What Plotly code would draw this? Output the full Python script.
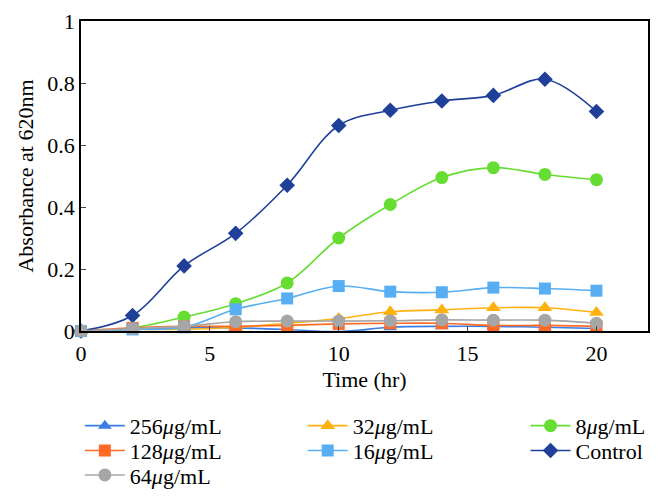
import plotly.graph_objects as go

time_hr = [0, 2, 4, 6, 8, 10, 12, 14, 16, 18, 20]

series_names = ["256<i>\u03bc</i>g/mL", "32<i>\u03bc</i>g/mL", "8<i>\u03bc</i>g/mL",
                "128<i>\u03bc</i>g/mL", "16<i>\u03bc</i>g/mL", "Control", "64<i>\u03bc</i>g/mL"]

v256 = [0, 0.005, 0.010, 0.010, 0.005, -0.002, 0.012, 0.015, 0.015, 0.012, 0.008]
v32 = [0, 0.005, 0.005, 0.012, 0.025, 0.040, 0.062, 0.068, 0.075, 0.075, 0.060]
v8 = [0, 0.010, 0.045, 0.088, 0.155, 0.300, 0.408, 0.495, 0.527, 0.505, 0.488]
v128 = [0, 0.010, 0.015, 0.015, 0.018, 0.023, 0.025, 0.025, 0.018, 0.018, 0.015]
v16 = [0, 0.005, 0.012, 0.070, 0.105, 0.145, 0.127, 0.125, 0.140, 0.137, 0.130]
vcontrol = [0, 0.050, 0.210, 0.315, 0.470, 0.663, 0.712, 0.742, 0.760, 0.812, 0.708]
v64 = [0, 0.008, 0.015, 0.030, 0.032, 0.032, 0.033, 0.036, 0.035, 0.035, 0.025]

values = [v256, v32, v8, v128, v16, vcontrol, v64]
colors = ["#3b7de3", "#ffb20f", "#66dd33", "#ff6b24", "#58aef2", "#1f3f99", "#a6a6a6"]
symbols = ["triangle-up", "triangle-up", "circle", "square", "square", "diamond", "circle"]
sizes = [12, 13, 13, 12, 12, 12, 13]

# legend grid placement (3 columns, row-major)
col_x = [-0.002, 0.391, 0.784]
row_y = [-0.306, -0.386, -0.465]

font_family = "Liberation Serif"
FS = 22

fig = go.Figure()
legend_layouts = {}
for i in range(7):
    key = "legend" if i == 0 else f"legend{i + 1}"
    fig.add_trace(go.Scatter(
        x=time_hr, y=values[i], name=series_names[i],
        mode="lines+markers",
        line=dict(color=colors[i], width=1.6, shape="spline", smoothing=1.0),
        marker=dict(color=colors[i], symbol=symbols[i], size=sizes[i]),
        cliponaxis=False,
        legend=key,
    ))
    legend_layouts[key] = dict(
        orientation="h", x=col_x[i % 3], xanchor="left",
        y=row_y[i // 3], yanchor="middle",
        font=dict(size=FS, family=font_family, color="black"), itemwidth=40,
        bgcolor="rgba(0,0,0,0)",
    )

fig.update_layout(
    width=663, height=501,
    paper_bgcolor="white", plot_bgcolor="white",
    margin=dict(l=81, r=15, t=21, b=170, autoexpand=False),
    font=dict(family=font_family, size=FS, color="black"),
    xaxis=dict(range=[0, 22], tickvals=[0, 5, 10, 15, 20], ticks="inside", ticklen=5,
               showline=True, linecolor="black", linewidth=1.5, mirror=True,
               showgrid=False, zeroline=False, tickfont=dict(size=FS),
               ticklabelstandoff=2,
               title=dict(text="Time (hr)", font=dict(size=FS), standoff=6)),
    yaxis=dict(range=[0, 1], tickvals=[0, 0.2, 0.4, 0.6, 0.8, 1], ticktext=["0", "0.2", "0.4", "0.6", "0.8", "1"],
               ticks="inside", ticklen=5,
               showline=True, linecolor="black", linewidth=1.5, mirror=True,
               showgrid=False, zeroline=False, tickfont=dict(size=FS),
               title=dict(text="Absorbance at 620nm", font=dict(size=FS), standoff=8)),
    showlegend=True,
    **legend_layouts,
)
fig.write_html("out.html", config={"displayModeBar": False},
               post_script="document.body.style.margin='0';")
